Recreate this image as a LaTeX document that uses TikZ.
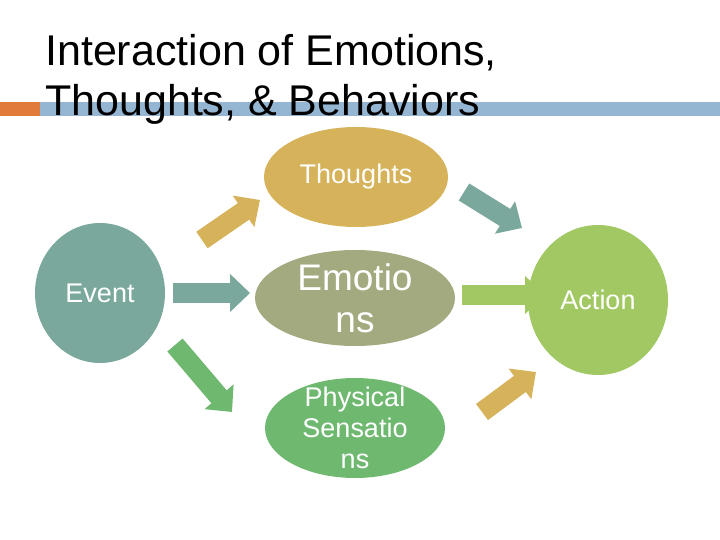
\documentclass[tikz,border=0pt]{standalone}
\usepackage{fontspec}
\setmainfont{Liberation Sans}
\usetikzlibrary{arrows.meta,shapes.geometric}
\definecolor{cTh}{HTML}{D6B25A}
\definecolor{cEv}{HTML}{7BA89C}
\definecolor{cEm}{HTML}{A3AA80}
\definecolor{cAc}{HTML}{A1C862}
\definecolor{cPh}{HTML}{6FB870}
\definecolor{cOr}{HTML}{E07B3A}
\definecolor{cBl}{HTML}{94B6D2}
\begin{document}
\begin{tikzpicture}[x=1pt,y=-1pt,
  blob/.style={ellipse,draw=none,text=white,align=center,inner sep=0pt},
  barrow/.style={line width=20pt,-{Triangle[width=37pt,length=20pt]}}]
\useasboundingbox (0,0) rectangle (720,540);
\fill[white] (0,0) rectangle (720,540);
\fill[cOr] (0,102) rectangle (40,116);
\fill[cBl] (40,102) rectangle (720,116);
\node[anchor=north west,align=left,font=\fontsize{43}{50}\selectfont,inner sep=0pt] (title) at (45,34) {Interaction of Emotions,\\Thoughts, \& Behaviors};
\coordinate (a1s) at (173,293); \coordinate (a1e) at (250,293);
\coordinate (a2s) at (202,240); \coordinate (a2e) at (260,200);
\coordinate (a3s) at (175,345); \coordinate (a3e) at (232,412);
\coordinate (a4s) at (464,192); \coordinate (a4e) at (522,228);
\coordinate (a5s) at (462,295); \coordinate (a5e) at (545,295);
\coordinate (a6s) at (482,412); \coordinate (a6e) at (536,372);
\draw[barrow,cEv] (a1s) -- (a1e);
\draw[barrow,cTh] (a2s) -- (a2e);
\draw[barrow,cPh] (a3s) -- (a3e);
\draw[barrow,cEv] (a4s) -- (a4e);
\draw[barrow,cAc] (a5s) -- (a5e);
\draw[barrow,cTh] (a6s) -- (a6e);
\fill[cTh] (356,177) ellipse [x radius=92,y radius=50];
\node[blob,font=\fontsize{27}{32}\selectfont] (th) at (356,177) {Thoughts};
\fill[cEv] (100,293) ellipse [x radius=65,y radius=70];
\node[blob,font=\fontsize{27}{32}\selectfont] (ev) at (100,293) {Event};
\fill[cEm] (355,298) ellipse [x radius=100,y radius=48];
\node[blob,font=\fontsize{37}{42}\selectfont] (em) at (355,298) {Emotio\\ns};
\fill[cAc] (598,300) ellipse [x radius=70,y radius=75];
\node[blob,font=\fontsize{27}{32}\selectfont] (ac) at (598,300) {Action};
\fill[cPh] (355,428) ellipse [x radius=90,y radius=50];
\node[blob,font=\fontsize{27}{31}\selectfont] (ph) at (355,428) {Physical\\Sensatio\\ns};
\end{tikzpicture}
\end{document}
